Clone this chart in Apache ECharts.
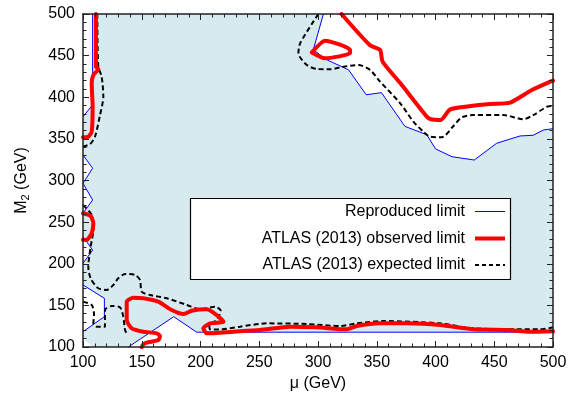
<!DOCTYPE html>
<html>
<head>
<meta charset="utf-8">
<script src="https://cdn.jsdelivr.net/npm/echarts@6/dist/echarts.min.js"></script>
<style>
  html, body { margin: 0; padding: 0; background: #fff; }
  #chart { width: 570px; height: 397px; }
</style>
</head>
<body>
<div id="chart"></div>
<script>
// Tick values for both axes (GeV)
const muTicks = [100, 150, 200, 250, 300, 350, 400, 450, 500];
const m2Ticks = [100, 150, 200, 250, 300, 350, 400, 450, 500];

// Reproduced exclusion boundary, split into the pieces that bound each allowed region
const reproducedUpper = [[304.6,500],[296,457],[307.5,445],[326,433],[341,403],[354,405.5],[374,365],[392.6,355],[400,338],[414,328.6],[433,324.6],[452,344.7],[472,353.5],[483,354.3],[492,360.7],[500,362.2]];
const reproducedLeftTop = [[108.2,500],[108.2,390.7],[100,376.7]];
const reproducedLeftZig1 = [[100,330.6],[108.2,314.7],[100,296.6],[108.2,276.6],[100,260.6]];
const reproducedLeftZig2 = [[100,232.5],[108.2,216.5],[100,200.5]];
const reproducedLeftTri = [[100,174.5],[118.2,158.5],[118.2,136.4],[100,118.4]];
const reproducedBottom = [[138.6,100],[177.2,136.4],[196.8,117.8],[500,117.8]];
const allowedCorner = [[100,110],[109,100],[100,100]];

// ATLAS (2013) observed limit
const observedUpper = [[320,500],[344,462.8],[352.9,456.8],[355,442.7],[370,417],[392.6,376.7],[396,373.5],[404.5,372.7],[412.5,385.5],[430,389.5],[446.5,391.9],[463.5,393.5],[482,408.7],[497.6,418.7],[500,420]];
const observedIsland = [[294.7,453.8],[306,468],[327.3,456.8],[327.3,452.8],[306,446.8],[294.7,453.8]];
const observedLeft = [[111,500],[111,436.7],[113,433.9],[108.8,426.7],[107.4,416.8],[108.2,388.7],[107.4,358.6],[104.5,352.6],[100,351.9]];
const observedLeftIsland = [[100,260.6],[106.5,257.4],[108.8,248.6],[107.4,236.6],[103.1,228.5],[100,228.8]];
const observedBottom = [[150,100],[151.3,103],[154.2,105.2],[164.1,108.4],[165.5,113.1],[162.7,116.4],[151.3,118.4],[141.5,122.4],[137.2,132.4],[137.2,154.4],[142.8,159.2],[151.3,158.5],[164.1,154.4],[175.5,144.4],[185.4,139.6],[192.5,143.6],[205.3,145.3],[213.8,138.4],[219.5,130.4],[208.1,128.4],[202.4,122.4],[205.3,116.4],[228,118.4],[250.7,120.4],[276.2,124.4],[299,123.6],[324.4,121.2],[333,125.2],[352.9,128.4],[375.6,128.4],[404,126.4],[432.3,121.2],[460.7,120.4],[480.6,118.4],[500,119]];

// ATLAS (2013) expected limit
const expectedUpper = [[300.3,500],[296,490.8],[284.8,464.8],[283.3,452.8],[290.5,438.7],[299,433.9],[310.3,433.6],[321.6,436.7],[334.4,438.7],[344.4,432.7],[352.9,418.7],[370,392.7],[381.2,370.6],[389.7,358.6],[395.4,352.6],[405.4,351.9],[415.3,365.5],[422.4,375.9],[432.3,378.7],[457.8,378.7],[474.9,373.5],[483.4,378.7],[494.8,388.6],[500,389.7]];
const expectedLeft = [[112.2,500],[113,436.7],[115.9,424.7],[117.3,400.7],[114.5,378.7],[110.2,352.6],[106,343.8],[100,340.6]];
const expectedMiddle = [[100,270.6],[108.2,256.5],[108.8,240.5],[106.5,220.5],[104.5,196.5],[106.5,182.5],[113,170.5],[120.2,168.5],[125.8,174.5],[130,182.5],[135.8,187.7],[144.3,186.5],[148.5,180.5],[150,166.4],[157,162.5],[171.3,158.5],[188.3,150.5],[199.6,145.3],[212.4,148.4],[217.2,143.6],[213.8,132.4],[207.5,126.4],[208.1,121.2],[216.6,121],[233.6,124.4],[256.4,128.4],[290.5,127.6],[318.8,125.2],[333,128.4],[355.5,131.2],[404,128.4],[432.3,122.4],[489,121.2],[500,123.6]];
const expectedLowerLeft = [[100,154.4],[107.4,150.5],[109.4,138.4],[108.8,128.4],[111.7,124.4],[118.7,124.4],[118.7,144.4],[124.4,149.2],[131.5,147.7],[134.3,136.4],[135.8,120.4],[138,114]];

const FONT = 'Liberation Sans';
const LIGHT = '#d7eaf0';
const xMin = muTicks[0], xMax = muTicks[muTicks.length - 1];
const yMin = m2Ticks[0], yMax = m2Ticks[m2Ticks.length - 1];

// Allowed (non-excluded) regions, closed along the frame
const allowedRegions = [
  reproducedUpper.concat([[xMax, yMax]]),
  reproducedLeftTop.concat([[xMin, yMax]]),
  reproducedLeftZig1,
  reproducedLeftZig2,
  reproducedLeftTri,
  reproducedBottom.concat([[xMax, yMin]]),
  allowedCorner
];
const excludedFrame = [[[xMin, yMin], [xMax, yMin], [xMax, yMax], [xMin, yMax]]];

function polygonSeries(polys, color, z) {
  return {
    type: 'custom', coordinateSystem: 'cartesian2d', clip: true, silent: true, z: z,
    data: polys.map(() => [xMin, yMin]),
    renderItem: (params, api) => ({
      type: 'polygon',
      shape: { points: polys[params.dataIndex].map(p => api.coord(p)) },
      style: { fill: color, stroke: null }
    })
  };
}

function lineSeries(name, pts, style, smooth) {
  return {
    name: name, type: 'line', data: pts, symbol: 'none', showSymbol: false,
    smooth: smooth, silent: true, z: 3, clip: true, lineStyle: style
  };
}

const blueStyle = { color: '#0000ff', width: 1 };
const redStyle = { color: '#ff0000', width: 4, cap: 'round', join: 'round' };
const dashStyle = { color: '#000000', width: 2, type: [5, 3] };

function axisCommon(showLabels) {
  return {
    type: 'value', min: xMin, max: xMax, interval: muTicks[1] - muTicks[0], z: 10,
    axisLine: { show: true, onZero: false, lineStyle: { color: '#222', width: 1.5 } },
    axisTick: { show: true, inside: true, length: 6, lineStyle: { color: '#222', width: 1 } },
    minorTick: { show: true, splitNumber: 5, length: 3.5, lineStyle: { color: '#222', width: 1 } },
    splitLine: { show: false },
    axisLabel: { show: showLabels, fontFamily: FONT, fontSize: 16, color: '#000', margin: 8 }
  };
}

const chart = echarts.init(document.getElementById('chart'), null, { renderer: 'canvas' });

const xBottom = Object.assign(axisCommon(true), {
  position: 'bottom', name: 'μ (GeV)', nameLocation: 'middle', nameGap: 27,
  nameTextStyle: { fontFamily: FONT, fontSize: 16, color: '#000' }
});
const xTop = Object.assign(axisCommon(false), { position: 'top' });
const yLeft = Object.assign(axisCommon(true), {
  min: yMin, max: yMax, interval: m2Ticks[1] - m2Ticks[0], position: 'left',
  name: '{m|M}{s|2}{m| (GeV)}', nameLocation: 'middle', nameGap: 52, nameRotate: 90,
  nameTextStyle: {
    rich: {
      m: { fontFamily: FONT, fontSize: 16, color: '#000' },
      s: { fontFamily: FONT, fontSize: 11, color: '#000', padding: [8, 0, 0, 0] }
    }
  }
});
const yRight = Object.assign(axisCommon(false), {
  min: yMin, max: yMax, interval: m2Ticks[1] - m2Ticks[0], position: 'right'
});

const legendRows = [
  { text: 'Reproduced limit', y: 211.5, stroke: '#0000ff', width: 1, dash: null },
  { text: 'ATLAS (2013) observed limit', y: 238.5, stroke: '#ff0000', width: 4, dash: null },
  { text: 'ATLAS (2013) expected limit', y: 265, stroke: '#000000', width: 2, dash: [4, 3] }
];
const legendGraphic = [
  { type: 'rect', z: 100, shape: { x: 190.5, y: 198.5, width: 320, height: 81 },
    style: { fill: '#fff', stroke: '#000', lineWidth: 1.2 } }
];
legendRows.forEach(r => {
  legendGraphic.push({ type: 'text', z: 101, x: 465, y: r.y,
    style: { text: r.text, font: '16px "' + FONT + '"', fill: '#000',
             textAlign: 'right', textVerticalAlign: 'middle', align: 'right', verticalAlign: 'middle' } });
  legendGraphic.push({ type: 'line', z: 101, shape: { x1: 475, y1: r.y, x2: 505, y2: r.y },
    style: { stroke: r.stroke, lineWidth: r.width, lineDash: r.dash } });
});

chart.setOption({
  animation: false,
  backgroundColor: '#fff',
  grid: { left: 83, right: 17, top: 14, bottom: 50, containLabel: false },
  xAxis: [xBottom, xTop],
  yAxis: [yLeft, yRight],
  series: [
    polygonSeries(excludedFrame, LIGHT, 1),
    polygonSeries(allowedRegions, '#ffffff', 1),
    lineSeries('Reproduced limit', reproducedUpper, blueStyle, false),
    lineSeries('Reproduced limit', reproducedLeftTop, blueStyle, false),
    lineSeries('Reproduced limit', reproducedLeftZig1, blueStyle, false),
    lineSeries('Reproduced limit', reproducedLeftZig2, blueStyle, false),
    lineSeries('Reproduced limit', reproducedLeftTri, blueStyle, false),
    lineSeries('Reproduced limit', reproducedBottom, blueStyle, false),
    lineSeries('ATLAS (2013) expected limit', expectedUpper, dashStyle, 0.25),
    lineSeries('ATLAS (2013) expected limit', expectedLeft, dashStyle, 0.25),
    lineSeries('ATLAS (2013) expected limit', expectedMiddle, dashStyle, 0.25),
    lineSeries('ATLAS (2013) expected limit', expectedLowerLeft, dashStyle, 0.25),
    lineSeries('ATLAS (2013) observed limit', observedUpper, redStyle, 0.2),
    lineSeries('ATLAS (2013) observed limit', observedIsland, redStyle, 0.2),
    lineSeries('ATLAS (2013) observed limit', observedLeft, redStyle, 0.2),
    lineSeries('ATLAS (2013) observed limit', observedLeftIsland, redStyle, 0.2),
    lineSeries('ATLAS (2013) observed limit', observedBottom, redStyle, 0.2)
  ],
  graphic: legendGraphic
});
</script>
</body>
</html>
